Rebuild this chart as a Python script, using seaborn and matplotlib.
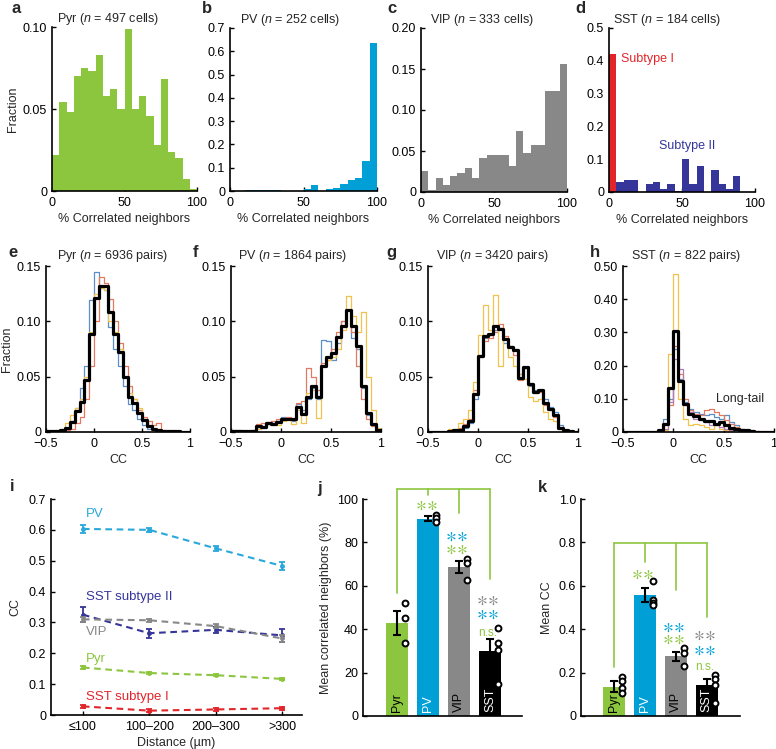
import numpy as np
import pandas as pd
import matplotlib
matplotlib.use("Agg")
import matplotlib.pyplot as plt
import seaborn as sns

W, H = 776, 749

# ---------------- data ----------------
pct_edges = np.arange(0, 105, 5)
cc_edges = np.round(np.linspace(-0.5, 1.0, 31), 3)

# a-d: fraction of cells vs % correlated neighbors (5% bins)
pyr_neighbors = [0.022, 0.054, 0.048, 0.070, 0.075, 0.073, 0.083, 0.058, 0.062, 0.050,
                 0.099, 0.050, 0.058, 0.046, 0.028, 0.068, 0.024, 0.020, 0.0075, 0.0015]
pv_neighbors = [0, 0, 0.004, 0.004, 0.004, 0.004, 0.004, 0.001, 0.001, 0.001,
                0.008, 0.024, 0, 0.008, 0.012, 0.028, 0.048, 0.056, 0.127, 0.635]
vip_neighbors = [0.026, 0.002, 0.017, 0.008, 0.020, 0.023, 0.029, 0.017, 0.042, 0.045,
                 0.045, 0.045, 0.032, 0.075, 0.047, 0.057, 0.057, 0.123, 0.123, 0.156]
sst1_neighbors = [0.42, 0, 0, 0, 0, 0, 0, 0, 0, 0,
                  0, 0, 0, 0, 0, 0, 0, 0, 0, 0]
sst2_neighbors = [0, 0.030, 0.036, 0.036, 0, 0.025, 0.030, 0.009, 0.025, 0.003,
                  0.101, 0.025, 0.080, 0, 0.068, 0.025, 0.009, 0.048, 0, 0]

# e-h: CC distributions (0.05 bins, -0.5..1); three/four animals + pooled (black)
pyr_cc_blue = [0, 0, 0.001, 0.002, 0.004, 0.010, 0.022, 0.040, 0.060, 0.119, 0.145, 0.130, 0.128, 0.095, 0.075,
               0.060, 0.042, 0.025, 0.020, 0.012, 0.006, 0.003, 0.002, 0.001, 0, 0, 0, 0, 0, 0]
pyr_cc_red = [0, 0, 0, 0, 0.002, 0.003, 0.008, 0.014, 0.030, 0.060, 0.100, 0.140, 0.135, 0.120, 0.100,
              0.080, 0.060, 0.042, 0.030, 0.020, 0.014, 0.010, 0.006, 0.008, 0.002, 0.001, 0, 0, 0, 0]
pyr_cc_yellow = [0, 0.001, 0.002, 0.003, 0.008, 0.015, 0.022, 0.030, 0.050, 0.090, 0.125, 0.130, 0.128, 0.100, 0.090,
                 0.075, 0.050, 0.035, 0.030, 0.022, 0.012, 0.006, 0.003, 0.002, 0.001, 0, 0, 0, 0, 0]
pyr_cc_all = [0.001, 0.001, 0.001, 0.002, 0.004, 0.009, 0.019, 0.027, 0.047, 0.089, 0.121, 0.132, 0.132, 0.108, 0.089,
              0.072, 0.050, 0.032, 0.026, 0.017, 0.011, 0.005, 0.003, 0.0015, 0.001, 0.001, 0.0005, 0.0005, 0.0003, 0.0002]

pv_cc_blue = [0.002, 0.002, 0.001, 0.001, 0, 0.003, 0.004, 0.007, 0.008, 0.010, 0.014, 0.013, 0.010, 0.025, 0.020,
              0.030, 0.040, 0.030, 0.083, 0.082, 0.065, 0.080, 0.100, 0.110, 0.085, 0.075, 0.040, 0.015, 0.006, 0.002]
pv_cc_red = [0.001, 0.001, 0.001, 0.001, 0.002, 0.007, 0.008, 0.009, 0.010, 0.012, 0.013, 0.014, 0.011, 0.026, 0.028,
             0.058, 0.050, 0.038, 0.062, 0.065, 0.075, 0.090, 0.100, 0.110, 0.090, 0.060, 0.030, 0.012, 0.005, 0.001]
pv_cc_yellow = [0, 0, 0, 0, 0.001, 0.003, 0.005, 0.007, 0.006, 0.006, 0.010, 0.012, 0.007, 0.020, 0.008,
                0.035, 0.038, 0.013, 0.060, 0.065, 0.068, 0.075, 0.092, 0.123, 0.105, 0.090, 0.108, 0.050, 0.020, 0.004]
pv_cc_all = [0.001, 0.001, 0.001, 0.001, 0.001, 0.005, 0.0045, 0.008, 0.007, 0.009, 0.012, 0.012, 0.012, 0.0226, 0.0166,
             0.032, 0.042, 0.032, 0.060, 0.068, 0.071, 0.086, 0.096, 0.110, 0.096, 0.078, 0.042, 0.0175, 0.007, 0.002]

vip_cc_blue = [0, 0, 0, 0, 0.001, 0.001, 0.002, 0.004, 0.008, 0.030, 0.068, 0.085, 0.088, 0.092, 0.094,
               0.080, 0.078, 0.075, 0.052, 0.058, 0.042, 0.038, 0.037, 0.030, 0.023, 0.018, 0.006, 0.002, 0.001, 0]
vip_cc_red = [0, 0, 0, 0, 0.001, 0.002, 0.004, 0.007, 0.012, 0.038, 0.070, 0.082, 0.085, 0.090, 0.098,
              0.087, 0.078, 0.070, 0.047, 0.058, 0.044, 0.035, 0.036, 0.024, 0.020, 0.014, 0.004, 0.002, 0.001, 0]
vip_cc_yellow = [0, 0, 0, 0, 0.003, 0.003, 0.008, 0.012, 0.020, 0.045, 0.088, 0.115, 0.092, 0.124, 0.060,
                 0.085, 0.068, 0.060, 0.052, 0.048, 0.032, 0.028, 0.030, 0.018, 0.012, 0.010, 0.003, 0, 0, 0]
vip_cc_all = [0, 0, 0, 0, 0.001, 0.002, 0.002, 0.005, 0.0096, 0.034, 0.069, 0.0864, 0.089, 0.096, 0.093,
              0.084, 0.077, 0.074, 0.049, 0.059, 0.043, 0.036, 0.038, 0.026, 0.021, 0.015, 0.004, 0.002, 0.001, 0]

sst_cc_blue = [0, 0, 0, 0, 0, 0, 0, 0.005, 0.040, 0.100, 0.250, 0.160, 0.090, 0.070, 0.060,
               0.055, 0.050, 0.055, 0.045, 0.040, 0.050, 0.030, 0.020, 0.010, 0.003, 0, 0, 0, 0, 0]
sst_cc_red = [0, 0, 0, 0, 0, 0, 0, 0.005, 0.020, 0.080, 0.260, 0.175, 0.100, 0.065, 0.055,
              0.050, 0.065, 0.070, 0.060, 0.050, 0.035, 0.025, 0.015, 0.010, 0.005, 0.005, 0.003, 0, 0, 0]
sst_cc_yellow = [0, 0, 0, 0, 0, 0, 0, 0, 0.005, 0.235, 0.475, 0.100, 0.040, 0.020, 0.025,
                 0.020, 0.015, 0.010, 0.020, 0.010, 0.005, 0.003, 0, 0, 0, 0, 0, 0, 0, 0]
sst_cc_purple = [0, 0, 0, 0, 0, 0, 0, 0, 0.010, 0.090, 0.220, 0.190, 0.080, 0.060, 0.040,
                 0.035, 0.030, 0.020, 0.020, 0.015, 0.010, 0.005, 0, 0, 0, 0, 0, 0, 0, 0]
sst_cc_all = [0, 0, 0, 0, 0, 0, 0, 0.005, 0.023, 0.134, 0.303, 0.153, 0.083, 0.053, 0.047,
              0.040, 0.033, 0.033, 0.023, 0.030, 0.020, 0.013, 0.010, 0.007, 0.005, 0.003, 0.001, 0, 0, 0]

# i: CC vs distance
dist_labels = ['\u2264100', '100\u2013200', '200\u2013300', '>300']
pv_dist = [0.603, 0.600, 0.540, 0.483]
pv_dist_err = [0.012, 0.006, 0.009, 0.012]
sst2_dist = [0.325, 0.265, 0.276, 0.258]
sst2_dist_err = [0.025, 0.015, 0.010, 0.022]
vip_dist = [0.310, 0.307, 0.288, 0.248]
vip_dist_err = [0.008, 0.005, 0.007, 0.010]
pyr_dist = [0.154, 0.136, 0.129, 0.117]
pyr_dist_err = [0.004, 0.003, 0.003, 0.004]
sst1_dist = [0.028, 0.014, 0.018, 0.022]
sst1_dist_err = [0.006, 0.004, 0.004, 0.005]

# j, k: per-animal summaries
cell_types = ['Pyr', 'PV', 'VIP', 'SST']
mean_neighbors = [43.0, 91.0, 68.5, 30.0]
mean_neighbors_err = [5.5, 1.2, 2.8, 5.5]
neighbors_animals = [[52.0, 45.0, 33.5], [92.6, 91.4, 89.2], [72.2, 70.7, 62.7], [40.7, 33.5, 30.4, 14.7]]
mean_cc = [0.135, 0.557, 0.275, 0.145]
mean_cc_err = [0.025, 0.033, 0.022, 0.025]
cc_animals = [[0.181, 0.16, 0.13, 0.105], [0.624, 0.535, 0.52, 0.51], [0.312, 0.289, 0.232], [0.189, 0.169, 0.144, 0.061]]

# ---------------- style ----------------
GREEN = '#8cc63e'
CYAN = '#00a0d6'
GRAY = '#888888'
NAVY = '#35359a'
RED = '#e2252b'
LBLUE = '#5b8fc6'
LRED = '#e27a62'
LYEL = '#f2c24e'
LPUR = '#b57ab8'

sns.set_theme(style='ticks')
plt.rcParams['font.family'] = ['Liberation Sans', 'DejaVu Sans']
plt.rcParams['mathtext.fontset'] = 'custom'
plt.rcParams['mathtext.it'] = 'Liberation Sans:italic'
plt.rcParams['mathtext.rm'] = 'Liberation Sans'
plt.rcParams['mathtext.fallback'] = 'stixsans'
FS = 9

fig = plt.figure(figsize=(W / 100, H / 100), dpi=100)


def add_ax(left, top, right, bottom):
    return fig.add_axes([left / W, 1 - bottom / H, (right - left) / W, (bottom - top) / H])


def style_ax(ax):
    sns.despine(ax=ax)
    for s in ['left', 'bottom']:
        ax.spines[s].set_linewidth(1.2)
        ax.spines[s].set_color('black')
    ax.tick_params(direction='in', length=3, width=1, labelsize=FS, pad=3.5, colors='black')
    ax.tick_params(axis='x', pad=4.5)
    ax.set_xlabel('')
    ax.set_ylabel('')


def letter(x, y, s):
    fig.text(x / W, 1 - y / H, s, fontsize=12, fontweight='bold', va='baseline', ha='left')


def hist(ax, centers, vals, edges, **kws):
    df = pd.DataFrame({'x': centers, 'w': vals})
    sns.histplot(data=df, x='x', weights='w', bins=list(edges), ax=ax, **kws)


# ---------- row 1: % correlated neighbors ----------
pct_centers = pct_edges[:-1] + 2.5
row1 = [
    ((52, 27, 197, 191), 'Pyr ($n$ = 497 cells)', 0.39, 0.10, [0, 0.05, 0.10], ['0', '0.05', '0.10']),
    ((230, 28, 377, 191), 'PV ($n$ = 252 cells)', 0.41, 0.7, np.arange(0, 0.71, 0.1),
     ['0', '0.1', '0.2', '0.3', '0.4', '0.5', '0.6', '0.7']),
    ((421, 28, 567, 192), 'VIP ($n$ = 333 cells)', 0.42, 0.20, [0, 0.05, 0.10, 0.15, 0.20],
     ['0', '0.05', '0.10', '0.15', '0.20']),
    ((609, 28, 755, 192), 'SST ($n$ = 184 cells)', 0.40, 0.5, [0, 0.1, 0.2, 0.3, 0.4, 0.5],
     ['0', '0.1', '0.2', '0.3', '0.4', '0.5']),
]
row1_series = [[(pyr_neighbors, GREEN)], [(pv_neighbors, CYAN)], [(vip_neighbors, GRAY)],
               [(sst1_neighbors, RED), (sst2_neighbors, NAVY)]]

row1_axes = []
for (box, title, tx, ymax, yt, ytl), series in zip(row1, row1_series):
    ax = add_ax(*box)
    for vals, col in series:
        hist(ax, pct_centers, vals, pct_edges, color=col, alpha=1, linewidth=0)
    ax.set_xlim(0, 100)
    ax.set_ylim(0, ymax)
    style_ax(ax)
    ax.set_xticks([0, 50, 100], ['0', '50', '100'])
    ax.set_yticks(yt, ytl)
    ax.set_title(title, fontsize=FS, x=tx, pad=3)
    ax.set_xlabel('% Correlated neighbors', fontsize=FS, labelpad=3)
    row1_axes.append(ax)
row1_axes[0].set_ylabel('Fraction', fontsize=FS, labelpad=3)
row1_axes[3].text(8.5, 0.405, 'Subtype I', color=RED, fontsize=FS, va='center')
row1_axes[3].text(34, 0.141, 'Subtype II', color=NAVY, fontsize=FS, va='center')

# ---------- row 2: CC distributions ----------
cc_centers = (cc_edges[:-1] + cc_edges[1:]) / 2
row2 = [
    ((46, 266, 190, 432), 'Pyr ($n$ = 6936 pairs)', 0.46, 0.15,
     [(pyr_cc_blue, LBLUE), (pyr_cc_red, LRED), (pyr_cc_yellow, LYEL)], pyr_cc_all),
    ((231, 266, 381, 432), 'PV ($n$ = 1864 pairs)', 0.41, 0.15,
     [(pv_cc_blue, LBLUE), (pv_cc_red, LRED), (pv_cc_yellow, LYEL)], pv_cc_all),
    ((428, 266, 578, 432), 'VIP ($n$ = 3420 pairs)', 0.43, 0.15,
     [(vip_cc_blue, LBLUE), (vip_cc_red, LRED), (vip_cc_yellow, LYEL)], vip_cc_all),
    ((623, 266, 774, 432), 'SST ($n$ = 822 pairs)', 0.42, 0.5,
     [(sst_cc_blue, LBLUE), (sst_cc_red, LRED), (sst_cc_yellow, LYEL), (sst_cc_purple, LPUR)], sst_cc_all),
]
row2_axes = []
for box, title, tx, ymax, thin, pooled in row2:
    ax = add_ax(*box)
    for vals, col in thin:
        hist(ax, cc_centers, vals, cc_edges, element='step', fill=False, color=col, linewidth=0.9)
    hist(ax, cc_centers, pooled, cc_edges, element='step', fill=False, color='black', linewidth=2.3)
    ax.set_xlim(-0.5, 1)
    ax.set_ylim(0, ymax)
    style_ax(ax)
    ax.set_xticks([-0.5, 0, 0.5, 1], ['\u22120.5', '0', '0.5', '1'])
    if ymax < 0.2:
        ax.set_yticks([0, 0.05, 0.10, 0.15], ['0', '0.05', '0.10', '0.15'])
    else:
        ax.set_yticks(np.arange(0, 0.51, 0.1), ['0', '0.10', '0.20', '0.30', '0.40', '0.50'])
    ax.set_title(title, fontsize=FS, x=tx, pad=5)
    ax.set_xlabel('CC', fontsize=FS, labelpad=3)
    row2_axes.append(ax)
row2_axes[0].set_ylabel('Fraction', fontsize=FS, labelpad=3)
row2_axes[3].text(0.42, 0.10, 'Long-tail', fontsize=FS, va='center')

# ---------- i: CC vs distance ----------
ax = add_ax(51, 499, 302, 715)
dist_pos = [1, 2, 3, 4]
dist_series = [
    (pv_dist, pv_dist_err, '#29a8dc', 'PV', 0.651),
    (sst2_dist, sst2_dist_err, NAVY, 'SST subtype II', 0.381),
    (vip_dist, vip_dist_err, GRAY, 'VIP', 0.27),
    (pyr_dist, pyr_dist_err, GREEN, 'Pyr', 0.18),
    (sst1_dist, sst1_dist_err, RED, 'SST subtype I', 0.059),
]
for vals, errs, col, name, ly in dist_series:
    sns.lineplot(x=dist_pos, y=vals, color=col, linestyle=(0, (3.2, 2.2)), linewidth=1.5, ax=ax)
    ax.errorbar(dist_pos, vals, yerr=errs, fmt='none', ecolor=col, elinewidth=1.3,
                capsize=2.5, capthick=1.3)
    ax.plot(dist_pos, vals, 'o', color=col, markersize=2.5)
    ax.text(1.05, ly, name, color=col, fontsize=FS + 0.5, va='center')
ax.set_xlim(0.52, 4.3)
ax.set_ylim(0, 0.7)
style_ax(ax)
ax.set_xticks(dist_pos, dist_labels)
ax.set_yticks(np.arange(0, 0.71, 0.1), ['0', '0.1', '0.2', '0.3', '0.4', '0.5', '0.6', '0.7'])
ax.set_xlabel('Distance (\u00b5m)', fontsize=FS, labelpad=3)
ax.set_ylabel('CC', fontsize=FS, labelpad=5)

# ---------- j, k: summary bars ----------
bar_colors = [GREEN, CYAN, GRAY, 'black']
label_colors = ['black', 'white', 'black', 'white']


def summary_panel(box, xlim, means, errs, animals, ymax, yticks, yticklabels, ylabel,
                  bracket_y, drops, stars, label_y):
    ax = add_ax(*box)
    sns.barplot(x=cell_types, y=means, hue=cell_types, palette=bar_colors, order=cell_types,
                saturation=1, width=0.7, errorbar=None, legend=False, linewidth=0, ax=ax)
    ax.errorbar(range(4), means, yerr=errs, fmt='none', ecolor='black', elinewidth=1.5,
                capsize=3, capthick=1.5, zorder=4)
    for i, pts in enumerate(animals):
        ax.scatter([i + 0.27] * len(pts), pts, s=18, facecolor='white', edgecolor='black',
                   linewidth=1.4, zorder=5, clip_on=False)
    for i, name in enumerate(cell_types):
        ax.text(i, label_y, name, rotation=90, ha='center', va='bottom', color=label_colors[i],
                fontsize=FS)
    # significance bracket
    ax.plot([0, 3], [bracket_y, bracket_y], color=GREEN, lw=1.2, clip_on=False)
    for i, yb in enumerate(drops):
        ax.plot([i, i], [bracket_y, yb], color=GREEN, lw=1.2, clip_on=False)
    for x, y, s, col in stars:
        if s == 'n.s.':
            ax.text(x, y, s, color=col, fontsize=FS - 0.5, ha='center', va='center')
        else:
            ax.text(x, y, r'$\ast\!\ast$', color=col, fontsize=15, ha='center', va='center')
    ax.set_xlim(*xlim)
    ax.set_ylim(0, ymax)
    style_ax(ax)
    ax.set_xticks([])
    ax.set_yticks(yticks, yticklabels)
    ax.set_ylabel(ylabel, fontsize=FS, labelpad=4)
    return ax


summary_panel((363, 499, 522, 716), (-1.1, 4.03), mean_neighbors, mean_neighbors_err,
              neighbors_animals, 100, np.arange(0, 101, 20), ['0', '20', '40', '60', '80', '100'],
              'Mean correlated neighbors (%)', 104.5, [56.5, 101.8, 93.4, 63.0],
              [(0.95, 97, '**', GREEN), (1.92, 82.6, '**', CYAN), (1.92, 76.8, '**', GREEN),
               (2.93, 53.5, '**', GRAY), (2.93, 46.9, '**', CYAN), (2.93, 38.3, 'n.s.', GREEN)],
              2)

summary_panel((581, 499, 740, 716), (-1.06, 4.07), mean_cc, mean_cc_err, cc_animals,
              1.0, np.arange(0, 1.01, 0.2), ['0', '0.2', '0.4', '0.6', '0.8', '1.0'],
              'Mean CC', 0.796, [0.227, 0.711, 0.58, 0.458],
              [(0.91, 0.655, '**', GREEN), (1.91, 0.41, '**', CYAN), (1.91, 0.353, '**', GREEN),
               (2.94, 0.37, '**', GRAY), (2.94, 0.304, '**', CYAN), (2.94, 0.227, 'n.s.', GREEN)],
              0.02)

# panel letters
for x, y, s in [(12, 13, 'a'), (202, 13, 'b'), (387, 13, 'c'), (575, 13, 'd'),
                (8, 257, 'e'), (193, 257, 'f'), (386, 257, 'g'), (590, 257, 'h'),
                (10, 491, 'i'), (317, 493, 'j'), (538, 492, 'k')]:
    letter(x, y, s)

fig.savefig('out.png', dpi=100)
